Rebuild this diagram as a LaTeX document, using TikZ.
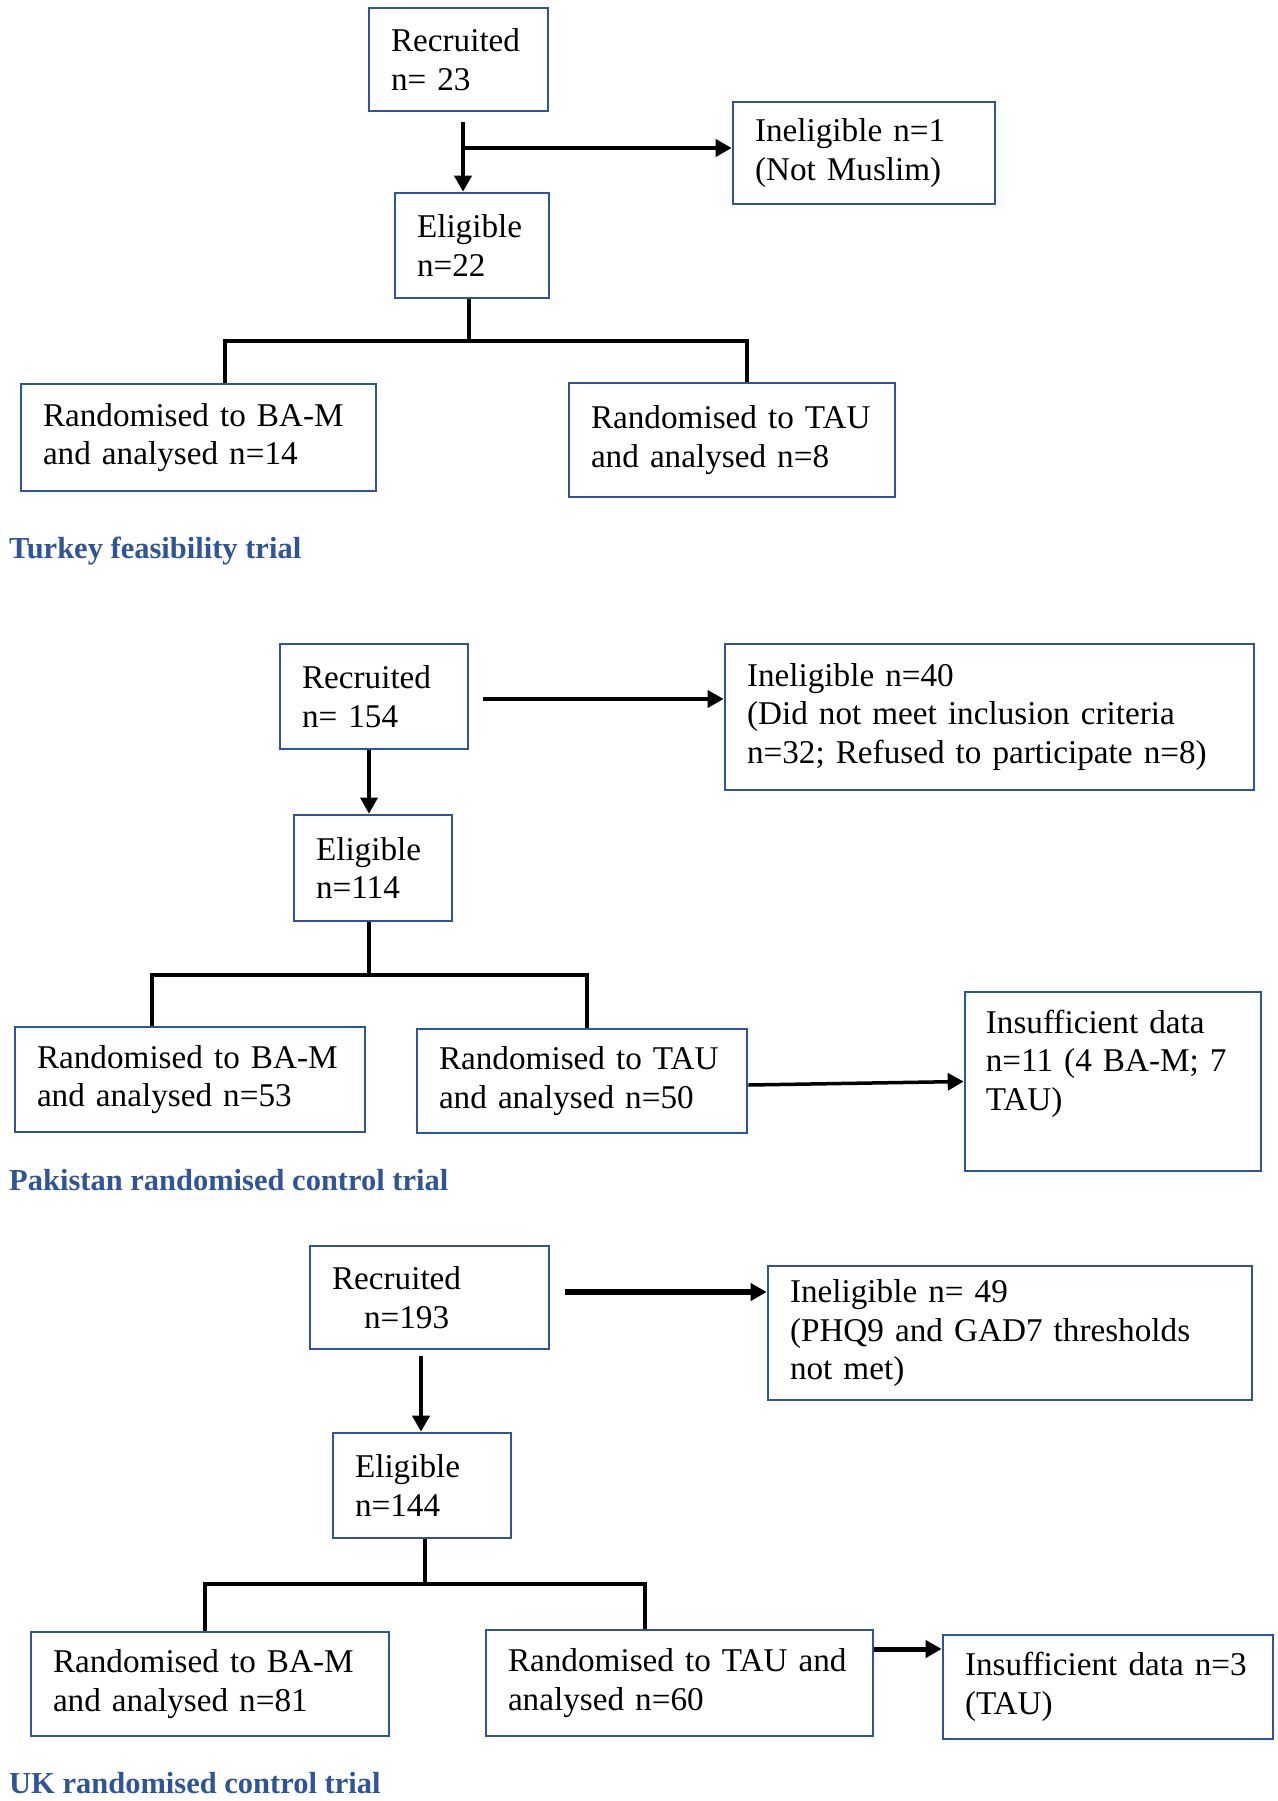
\documentclass[tikz,border=0pt]{standalone}
\usepackage{fontspec}
\setmainfont{Liberation Serif}
\usetikzlibrary{arrows.meta}
\definecolor{boxblue}{HTML}{2F5597}
\definecolor{titleblue}{HTML}{2F5597}
\tikzset{
  box/.style={draw=boxblue, line width=2.7pt, rectangle, align=left, inner xsep=22pt, inner ysep=0pt,
    font=\fontsize{33.2}{38.5}\selectfont, text=black},
  boxtext/.style={align=left, inner sep=0pt, font=\fontsize{33.2}{38.5}\selectfont, text=black},
  conn/.style={draw=black, line width=4pt, line join=miter},
  arr/.style={conn, -{Triangle[length=16pt,width=17pt]}},
  title/.style={font=\fontsize{30.5}{34}\selectfont\bfseries, text=titleblue, anchor=base west, inner sep=0pt},
}
\begin{document}
\begin{tikzpicture}[x=1pt,y=-1pt]
\useasboundingbox (0,0) rectangle (1277,1801);

% ---------------- Turkey ----------------
\node[box, minimum width=179pt, minimum height=103pt, text width=135pt] (trec) at (458.5,59.5) {Recruited\\n=~23};
\node[box, minimum width=262pt, minimum height=102pt, text width=218pt] (tinel) at (864,153) {Ineligible~n=1\\(Not~Muslim)};
\node[box, minimum width=154pt, minimum height=105pt, text width=110pt] (telig) at (472,245.5) {Eligible\\n=22};
\node[box, minimum width=355pt, minimum height=107pt, text width=311pt] (tbam) at (198.5,437.5) {Randomised~to~BA-M\\and~analysed~n=14};
\node[box, minimum width=326pt, minimum height=114pt, text width=282pt] (ttau) at (732,440) {Randomised~to~TAU\\and~analysed~n=8};
\node[title] (ttl) at (9,558) {Turkey feasibility trial};

\coordinate (tsp) at (463,148);
\coordinate (tfk) at (469,341);
\coordinate (tfl) at (225,341);
\coordinate (tfr) at (747,341);
\draw[arr, line width=4.5pt, shorten <=10pt] (trec.south -| tsp) -- (telig.north -| tsp);
\draw[arr, line width=4.5pt] (tsp) -- (tinel.west |- tsp);
\draw[conn, line width=4.5pt] (telig.south -| tfk) -- (tfk);
\draw[conn, line width=4.5pt] (tbam.north -| tfl) -- (tfl) -- (tfr) -- (ttau.north -| tfr);

% ---------------- Pakistan ----------------
\node[box, minimum width=188pt, minimum height=105pt, text width=144pt] (prec) at (374,696.5) {Recruited\\n=~154};
\node[box, minimum width=529pt, minimum height=146pt, text width=485pt] (pinel) at (989.5,717) {Ineligible~n=40\\(Did~not~meet~inclusion~criteria\\n=32;~Refused~to~participate~n=8)};
\node[box, minimum width=158pt, minimum height=106pt, text width=114pt] (pelig) at (373,868) {Eligible\\n=114};
\node[box, minimum width=350pt, minimum height=105pt, text width=306pt] (pbam) at (190,1079.5) {Randomised~to~BA-M\\and~analysed~n=53};
\node[box, minimum width=330pt, minimum height=104pt, text width=286pt] (ptau) at (582,1081) {Randomised~to~TAU\\and~analysed~n=50};
\node[box, minimum width=296pt, minimum height=179pt] (pins) at (1113,1081.5) {};
\node[boxtext, text width=252pt, anchor=west] (pinst) at ([xshift=22pt,yshift=18pt]pins.west) {Insufficient~data\\n=11~(4~BA-M;~7\\TAU)};
\node[title] (ptl) at (9,1190) {Pakistan randomised control trial};

\coordinate (pfk) at (369,975);
\coordinate (pfl) at (152,975);
\coordinate (pfr) at (587,975);
\draw[arr, line width=3.5pt, shorten <=14pt] ([yshift=-2.5pt]prec.east) -- ([yshift=-2.5pt]prec.east -| pinel.west);
\draw[arr, line width=3.5pt] (prec.south -| pfk) -- (pelig.north -| pfk);
\draw[conn, line width=3.5pt] (pelig.south -| pfk) -- (pfk);
\draw[conn, line width=3.5pt] (pbam.north -| pfl) -- (pfl) -- (pfr) -- (ptau.north -| pfr);
\draw[arr, line width=3.5pt] ([yshift=-4pt]ptau.east) -- (pins.west);

% ---------------- UK ----------------
\node[box, minimum width=239pt, minimum height=103pt, text width=195pt] (urec) at (429.5,1297.5) {Recruited\\\hspace*{32pt}n=193};
\node[box, minimum width=484pt, minimum height=134pt, text width=440pt] (uinel) at (1010,1333) {Ineligible~n=~49\\(PHQ9~and~GAD7~thresholds\\not~met)};
\node[box, minimum width=178pt, minimum height=105pt, text width=134pt] (uelig) at (422,1485.5) {Eligible\\n=144};
\node[box, minimum width=358pt, minimum height=104pt, text width=314pt] (ubam) at (210,1684) {Randomised~to~BA-M\\and~analysed~n=81};
\node[box, minimum width=387pt, minimum height=106pt, text width=343pt] (utau) at (679.5,1683) {Randomised~to~TAU~and\\analysed~n=60};
\node[box, minimum width=330pt, minimum height=104pt, text width=286pt] (uins) at (1108,1687) {Insufficient~data~n=3\\(TAU)};
\node[title] (utl) at (9,1793) {UK randomised control trial};

\coordinate (uva) at (421,1355);
\coordinate (ufk) at (425,1584);
\coordinate (ufl) at (205,1584);
\coordinate (ufr) at (645,1584);
\draw[arr, line width=5.5pt, shorten <=15pt] ([yshift=5.5pt]urec.east) -- ([yshift=5.5pt]urec.east -| uinel.west);
\draw[arr, line width=4.5pt, shorten <=6pt] (urec.south -| uva) -- (uelig.north -| uva);
\draw[conn] (uelig.south -| ufk) -- (ufk);
\draw[conn] (ubam.north -| ufl) -- (ufl) -- (ufr) -- (utau.north -| ufr);
\draw[arr, line width=5pt] ([yshift=34pt]utau.east) -- ([yshift=34pt]utau.east -| uins.west);
\end{tikzpicture}
\end{document}
